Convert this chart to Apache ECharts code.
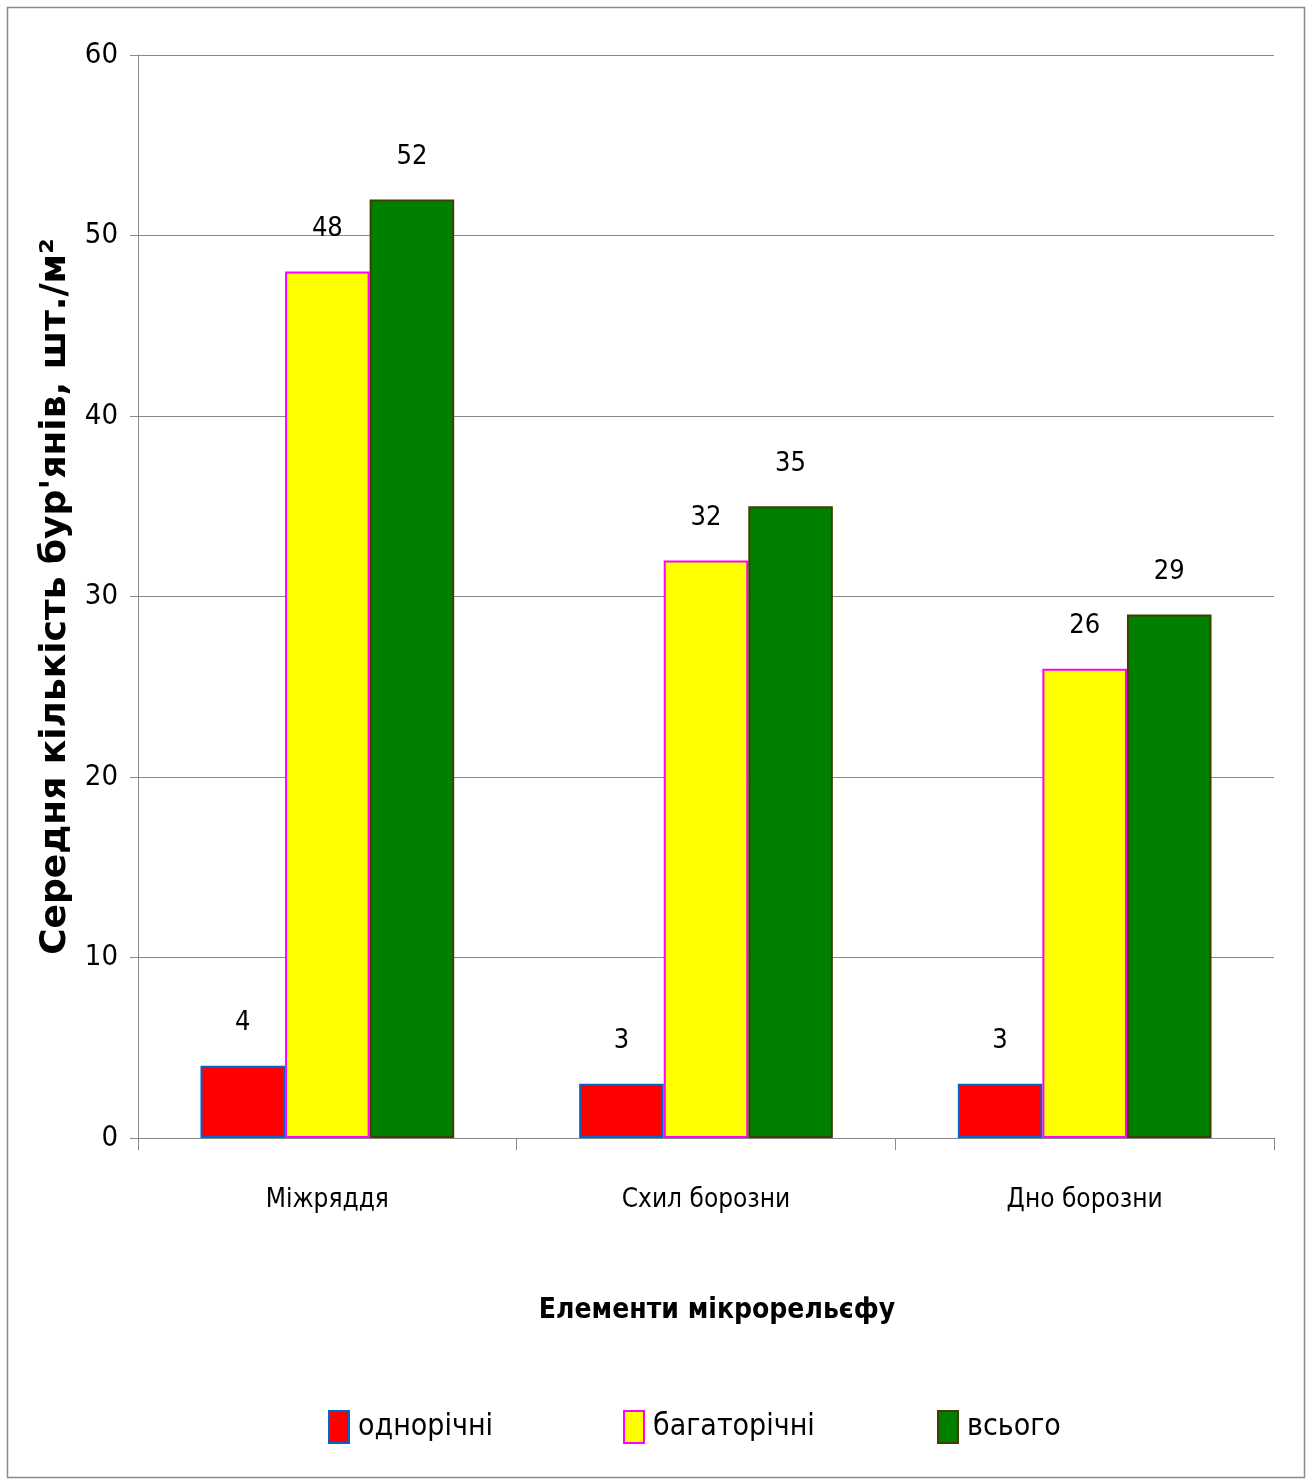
<!DOCTYPE html>
<html>
<head>
<meta charset="utf-8">
<script src="https://cdn.jsdelivr.net/npm/echarts@6/dist/echarts.min.js"></script>
<style>
  html, body { margin: 0; padding: 0; background: #fff; }
  #chart { width: 1314px; height: 1481px; }
</style>
</head>
<body>
<div id="chart"></div>
<script>
// Weed counts per micro-relief element
const categories = ['Міжряддя', 'Схил борозни', 'Дно борозни'];
const seriesNames = ['однорічні', 'багаторічні', 'всього'];
const annual = [4, 3, 3];
const perennial = [48, 32, 26];
const total = [52, 35, 29];
const yTicks = [0, 10, 20, 30, 40, 50, 60];

const narrow = '"Liberation Sans Narrow", "DejaVu Sans Condensed", "Roboto Condensed", "Open Sans", sans-serif';

const chart = echarts.init(document.getElementById('chart'), null, { renderer: 'canvas' });

function barSeries(name, data, fill, border) {
  return {
    name: name,
    type: 'bar',
    data: data,
    barGap: '0%',
    barCategoryGap: '33%',
    itemStyle: { color: fill, borderColor: border, borderWidth: 2 },
    label: {
      show: true,
      position: 'top',
      distance: 29,
      color: '#000',
      fontFamily: narrow,
      fontSize: 27
    }
  };
}

// one legend block per series so each entry sits at its own x
const legendLefts = [328, 623, 937];
const legends = seriesNames.map((n, i) => ({
  left: legendLefts[i],
  top: 1410,
  padding: 0,
  icon: 'rect',
  itemWidth: 20,
  itemHeight: 32,
  textStyle: { fontFamily: narrow, fontSize: 30, color: '#000', padding: [0, 0, 0, 4] },
  data: [n]
}));

chart.setOption({
  animation: false,
  backgroundColor: '#fff',
  grid: { left: 138, right: 40, top: 55, bottom: 343, containLabel: false },
  graphic: [{
    type: 'rect',
    shape: { x: 7.5, y: 7.5, width: 1297, height: 1470 },
    style: { fill: 'none', stroke: '#8a8a8a', lineWidth: 1.5 },
    z: -1
  }],
  legend: legends,
  xAxis: {
    type: 'category',
    data: categories,
    name: 'Елементи мікрорельєфу',
    nameLocation: 'middle',
    nameGap: 159,
    nameTextStyle: { fontFamily: narrow, fontSize: 28, fontWeight: 'bold', color: '#000', padding: [0, 0, 0, 22] },
    axisLine: { lineStyle: { color: '#8a8a8a', width: 1 } },
    axisTick: { show: true, alignWithLabel: false, length: 12, lineStyle: { color: '#8a8a8a' } },
    axisLabel: { fontFamily: narrow, fontSize: 26, color: '#000', margin: 49 }
  },
  yAxis: {
    type: 'value',
    min: 0,
    max: 60,
    interval: 10,
    name: 'Середня кількість бур\'янів, шт./м²',
    nameLocation: 'middle',
    nameGap: 57,
    nameTextStyle: { fontFamily: '"DejaVu Sans", Verdana, sans-serif', fontSize: 36, fontWeight: 'bold', color: '#000' },
    axisLine: { show: true, lineStyle: { color: '#8a8a8a', width: 1 } },
    axisTick: { show: true, length: 8, lineStyle: { color: '#8a8a8a' } },
    axisLabel: {
      fontFamily: narrow, fontSize: 29, color: '#000', margin: 20,
      formatter: v => (yTicks.indexOf(v) >= 0 ? String(v) : '')
    },
    splitLine: { show: true, lineStyle: { color: '#8a8a8a', width: 1 } }
  },
  series: [
    barSeries(seriesNames[0], annual, '#ff0000', '#0066cc'),
    barSeries(seriesNames[1], perennial, '#ffff00', '#ff00ff'),
    barSeries(seriesNames[2], total, '#008000', '#3f3f00')
  ]
});
</script>
</body>
</html>
